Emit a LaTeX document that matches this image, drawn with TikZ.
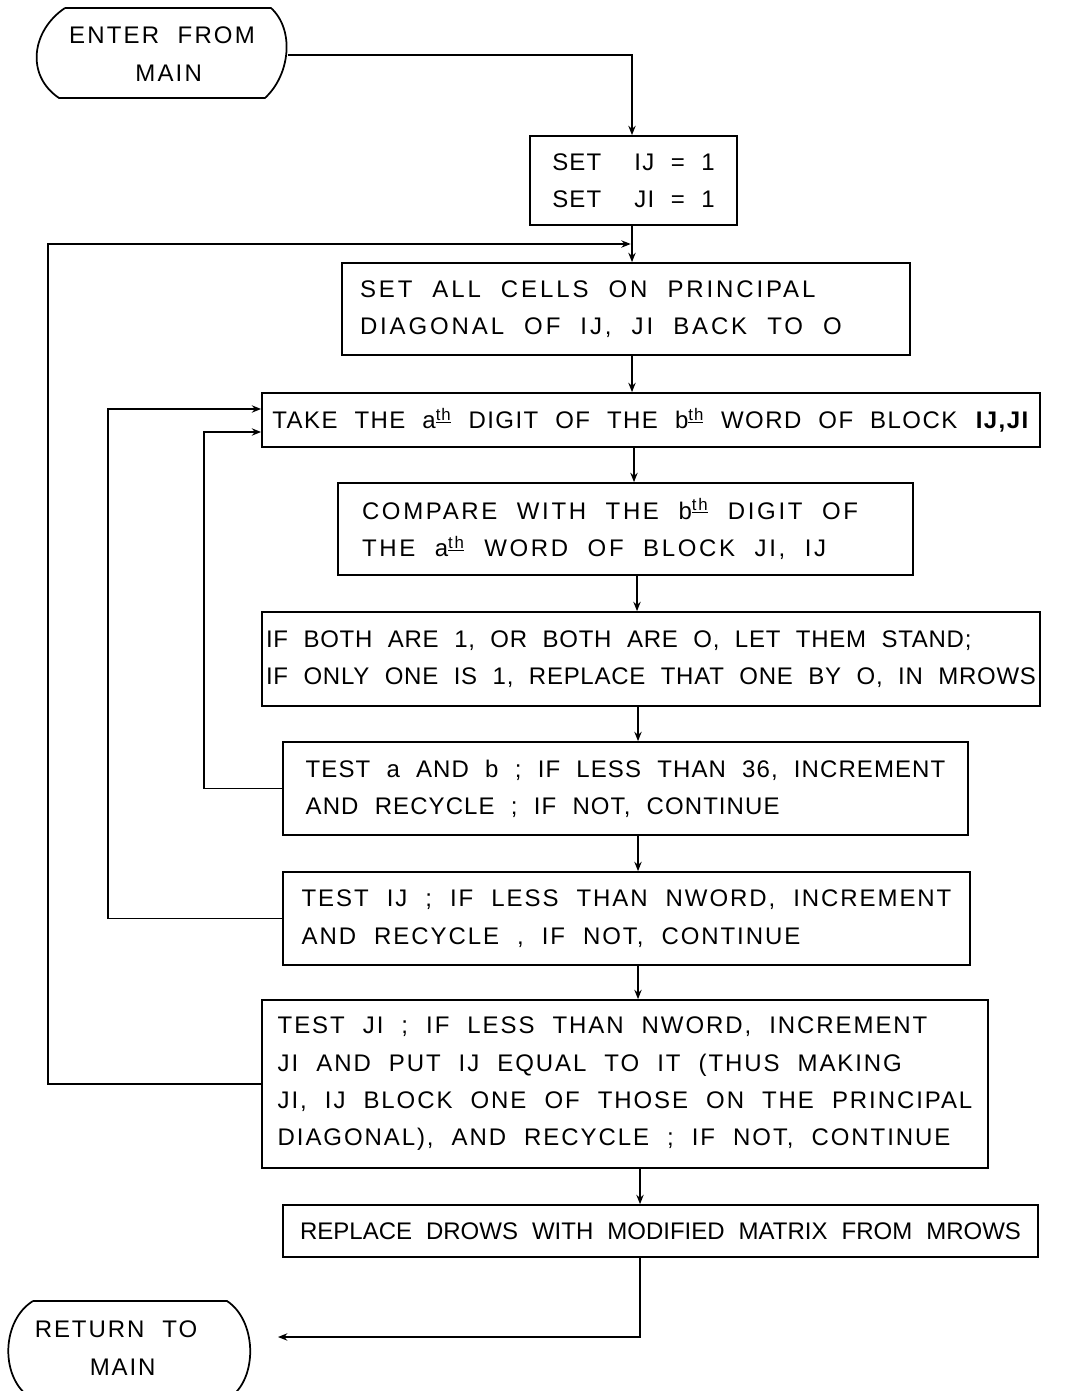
\documentclass[tikz,border=0pt]{standalone}
\usepackage{fontspec}
\setmainfont{Liberation Sans}[WordSpace=2.1]
\usetikzlibrary{arrows.meta,calc}
\newcommand\ordth[1]{#1\textsuperscript{\underline{th}}}
\begin{document}
\begin{tikzpicture}[x=0.75pt,y=-0.75pt,
  txt/.style={font={\fontsize{18}{28}\selectfont\addfontfeature{LetterSpace=#1}}},
  txt/.default=0,
  box/.style={draw, line width=1.3pt, align=left, inner sep=0pt, txt=#1},
  box/.default=0,
  ln/.style={line width=1.3pt},
  flow/.style={line width=1.3pt, -{Stealth[length=7pt,width=5.5pt]}}]
\useasboundingbox (0,0) rectangle (1064,1391);
% trunk and loop x positions
\coordinate (xa) at (632,0);
\coordinate (xb) at (634,0);
\coordinate (xc) at (637,0);
\coordinate (xd) at (638,0);
\coordinate (xe) at (640,0);
\coordinate (l1) at (48,0);
\coordinate (l2) at (108,0);
\coordinate (l3) at (204,0);
\coordinate (m) at (632,244);
% terminals
\draw[ln] (65,8) -- (271,8) .. controls (295,30) and (290,75) .. (265,98)
  -- (59,98) .. controls (25,75) and (32,30) .. (65,8);
\node[txt=9, align=center] (t1) at (162,54) {ENTER\ FROM\\\hspace*{10pt}MAIN};
\coordinate (t1e) at (288,55);
\draw[ln] (33,1301) -- (227,1301) .. controls (256,1320) and (258,1375) .. (232,1396)
  -- (28,1396) .. controls (0,1375) and (2,1320) .. (33,1301);
\node[txt=8, align=center] (t2) at (116,1348) {RETURN\ TO\\\hspace*{10pt}MAIN};
\coordinate (rt) at (278,1337);
% boxes
\node[box=5, minimum width=155.25pt, minimum height=66.75pt] (b1) at (633.5,180.5)
  {SET\ \ IJ = 1\\SET\ \ JI = 1};
\node[box=12, align=flush left, minimum width=426pt, minimum height=69pt, inner xsep=13.5pt, text width=399pt] (b2) at (626,309)
  {SET ALL CELLS ON PRINCIPAL\\DIAGONAL OF IJ, JI BACK TO O};
\node[box=6, minimum width=583.5pt, minimum height=40.5pt] (b3) at (651,420)
  {TAKE THE \ordth{a} DIGIT OF THE \ordth{b} WORD OF BLOCK \textbf{IJ,JI}};
\node[box=11, align=flush left, minimum width=431.25pt, minimum height=69pt, inner xsep=18pt, text width=395.25pt] (b4) at (625.5,529)
  {COMPARE WITH THE \ordth{b} DIGIT OF\\THE \ordth{a} WORD OF BLOCK JI, IJ};
\node[box=3, minimum width=583.5pt, minimum height=70.5pt] (b5) at (651,659)
  {IF BOTH ARE 1, OR BOTH ARE O, LET THEM STAND;\\IF ONLY ONE IS 1, REPLACE THAT ONE BY O, IN MROWS};
\node[box=4.5, minimum width=513.75pt, minimum height=69.75pt] (b6) at (625.5,788.5)
  {TEST a AND b ; IF LESS THAN 36, INCREMENT\\AND RECYCLE ; IF NOT, CONTINUE};
\node[box=8, minimum width=515.25pt, minimum height=69.75pt] (b7) at (626.5,918.5)
  {TEST IJ ; IF LESS THAN NWORD, INCREMENT\\AND RECYCLE , IF NOT, CONTINUE};
\node[box=8, minimum width=544.5pt, minimum height=126pt] (b8) at (625,1084)
  {TEST JI ; IF LESS THAN NWORD, INCREMENT\\JI AND PUT IJ EQUAL TO IT (THUS MAKING\\JI, IJ BLOCK ONE OF THOSE ON THE PRINCIPAL\\DIAGONAL), AND RECYCLE ; IF NOT, CONTINUE};
\node[box=0, minimum width=566.25pt, minimum height=39pt] (b9) at (660.5,1231)
  {REPLACE DROWS WITH MODIFIED MATRIX FROM MROWS};
\coordinate (e2) at ([yshift=8.25pt]b3.west);
\coordinate (e1) at ([yshift=-9pt]b3.west);
% main flow
\draw[flow] (t1e) -- (t1e -| xa) -- (b1.north -| xa);
\draw[flow] (b1.south -| xa) -- (b2.north -| xa);
\draw[flow] (b2.south -| xa) -- (b3.north -| xa);
\draw[flow] (b3.south -| xb) -- (b4.north -| xb);
\draw[flow] (b4.south -| xc) -- (b5.north -| xc);
\draw[flow] (b5.south -| xd) -- (b6.north -| xd);
\draw[flow] (b6.south -| xd) -- (b7.north -| xd);
\draw[flow] (b7.south -| xd) -- (b8.north -| xd);
\draw[flow] (b8.south -| xe) -- (b9.north -| xe);
\draw[flow] (b9.south -| xe) -- (xe |- rt) -- (rt);
% loops
\draw[flow] (b8.west) -- (b8.west -| l1) -- (l1 |- m) -- ([xshift=-1pt]m);
\draw[flow] (b7.west) -- (b7.west -| l2) -- (l2 |- e2) -- (e2);
\draw[flow] (b6.west) -- (b6.west -| l3) -- (l3 |- e1) -- (e1);
\end{tikzpicture}
\end{document}
